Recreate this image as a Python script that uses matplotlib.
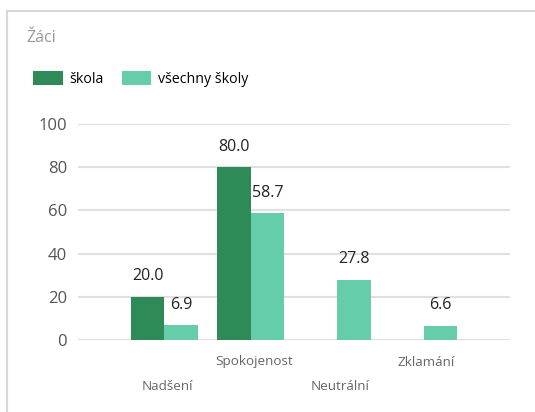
import numpy as np
import matplotlib
matplotlib.use("Agg")
import matplotlib.pyplot as plt
from matplotlib.lines import Line2D
from matplotlib.patches import Patch

plt.rcParams['font.family'] = ['Open Sans', 'DejaVu Sans']

# data
categories = ["Nadšení", "Spokojenost", "Neutrální", "Zklamání"]
skola = [20.0, 80.0, np.nan, np.nan]
vsechny = [6.9, 58.7, 27.8, 6.6]
series_names = ["škola", "všechny školy"]
title = "Žáci"

dark = "#2E8B57"
light = "#66CDAA"

fig = plt.figure(figsize=(5.35, 4.12), dpi=100)
ax = fig.add_axes([78 / 535, 1 - 340 / 412, 432 / 535, 216 / 412])

x = np.arange(len(categories))
w = 0.39
b1 = ax.bar(x - w / 2, skola, w, color=dark, zorder=3)
b2 = ax.bar(x + w / 2, vsechny, w, color=light, zorder=3)

for bars, vals in ((b1, skola), (b2, vsechny)):
    for rect, v in zip(bars, vals):
        if np.isnan(v):
            continue
        ax.annotate(f"{v:.1f}", (rect.get_x() + rect.get_width() / 2, v),
                    xytext=(0, 9), textcoords="offset points",
                    ha="center", va="bottom", fontsize=11.5, color="#222222")

ax.set_xlim(-1, 4)
ax.set_ylim(0, 100)
ax.set_yticks(range(0, 101, 20))
ax.yaxis.grid(True, color="#e0e0e0", linewidth=1.5, zorder=0)
ax.tick_params(axis="y", length=0, labelsize=12, labelcolor="#555555", pad=8)
ax.set_xticks([])
for s in ax.spines.values():
    s.set_visible(False)

# staggered category labels
for i, c in enumerate(categories):
    dy = 22 if i % 2 else 47
    ax.annotate(c, (i, 0), xytext=(3, -dy), textcoords="offset pixels",
                ha="center", va="center", fontsize=9.7, color="#666666",
                annotation_clip=False)

# title and legend
fig.text(26 / 535, 1 - 38 / 412, title, fontsize=11.5, color="#999999",
         va="center", ha="left")
handles = [Patch(facecolor=dark), Patch(facecolor=light)]
fig.legend(handles, series_names, loc="center left",
           bbox_to_anchor=(20 / 535, 1 - 79 / 412), ncol=2, frameon=False,
           fontsize=10.2, handlelength=2.1, handleheight=1.1,
           handletextpad=0.45, columnspacing=1.3)

# card border
fig.add_artist(Line2D([7 / 535, 1], [1 - 11 / 412] * 2, color="#d8d8d8", lw=1.5))
fig.add_artist(Line2D([7 / 535] * 2, [0, 1 - 11 / 412], color="#d8d8d8", lw=1.5))

fig.savefig("out.png", dpi=100)
